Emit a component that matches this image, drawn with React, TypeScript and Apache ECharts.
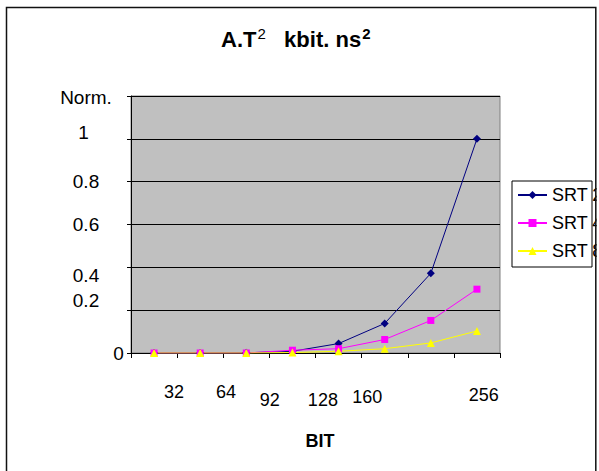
import React, { useEffect, useRef } from "react";
import * as echarts from "echarts";

// ---- data ----
const categories = ["1", "2", "3", "4", "5", "6", "7", "8"];
const seriesNames = ["SRT 2", "SRT 4", "SRT 8"];
const srt2 = [0, 0, 0.001, 0.008, 0.044, 0.138, 0.372, 1.0];
const srt4 = [0, 0, 0, 0.013, 0.02, 0.063, 0.152, 0.298];
const srt8 = [0, 0, 0, 0.002, 0.008, 0.02, 0.047, 0.103];
const yTickLabels = ["0", "0.2", "0.4", "0.6", "0.8", "1", "Norm."];
const xTickLabels = ["32", "64", "92", "128", "160", "256"];
const xAxisTitle = "BIT";

// ---- layout (not data) ----
const FONT = '"Liberation Sans", Arial, sans-serif';
const xLabelSlots = [0.93, 2.06, 3.01, 4.16, 5.12, 7.65];
const xLabelStyles = ["a", "a", "b", "b", "c", "d"];
const yLabelStyles = ["zero", "two", "four", "r", "r", "one", "n"];

export default function App() {
  const ref = useRef<HTMLDivElement>(null);
  useEffect(() => {
    if (!ref.current) return;
    const chart = echarts.init(ref.current, undefined, { renderer: "svg" });
    const base = { fontSize: 18, fontFamily: FONT, color: "#000" };
    const yBase = { fontSize: 19, fontFamily: FONT, color: "#000" };
    const option: any = {
      animation: false,
      backgroundColor: "#fff",
      title: {
        text: "{b|A.T}{s|2}{b|   kbit. ns}{sb|2}",
        left: 221,
        top: 26,
        padding: 0,
        textStyle: {
          rich: {
            b: { fontSize: 22, fontWeight: "bold", fontFamily: FONT, color: "#000" },
            s: { fontSize: 15, fontWeight: "normal", fontFamily: FONT, color: "#000", padding: [0, 0, 11, 1] },
            sb: { fontSize: 15, fontWeight: "bold", fontFamily: FONT, color: "#000", padding: [0, 0, 11, 1] },
          },
        },
      },
      grid: {
        left: 131,
        top: 96,
        width: 369,
        height: 257,
        show: true,
        backgroundColor: "#C0C0C0",
        borderColor: "#808080",
        borderWidth: 1,
        containLabel: false,
        outerBoundsMode: "none",
      },
      legend: {
        data: seriesNames,
        orient: "vertical",
        left: 512,
        top: 181,
        padding: [5, 5, 6, 5],
        itemGap: 10,
        itemWidth: 29,
        itemHeight: 10,
        textStyle: { ...base },
        backgroundColor: "#fff",
      },
      xAxis: [
        {
          type: "category",
          data: categories,
          boundaryGap: true,
          axisLine: { lineStyle: { color: "#000", width: 1 } },
          axisTick: { show: true, length: 5, lineStyle: { color: "#000" } },
          axisLabel: { show: false },
          splitLine: { show: false },
          name: xAxisTitle,
          nameLocation: "middle",
          nameGap: 79,
          nameTextStyle: { fontSize: 18, fontWeight: "bold", fontFamily: FONT, color: "#000", padding: [0, 0, 0, 9] },
        },
        {
          type: "value",
          position: "bottom",
          min: 0,
          max: categories.length,
          axisLine: { show: false },
          axisTick: { show: false },
          splitLine: { show: false },
          axisLabel: {
            show: true,
            margin: 30,
            customValues: xLabelSlots,
            formatter: (v: number) => {
              const i = xLabelSlots.findIndex((s) => Math.abs(s - v) < 1e-6);
              return i < 0 ? "" : `{${xLabelStyles[i]}|${xTickLabels[i]}}`;
            },
            rich: {
              a: { ...base },
              b: { ...base, padding: [8, 0, 0, 0] },
              c: { ...base, padding: [5, 0, 0, 0] },
              d: { ...base, padding: [3, 0, 0, 0] },
            },
          },
        },
      ],
      yAxis: {
        type: "value",
        min: 0,
        max: 1.2,
        interval: 0.2,
        axisLine: { show: true, lineStyle: { color: "#000", width: 1 } },
        axisTick: { show: true, length: 4, lineStyle: { color: "#000" } },
        splitLine: { show: true, lineStyle: { color: "#000", width: 1 } },
        axisLabel: {
          align: "center",
          margin: 45,
          formatter: (_v: number, i: number) => `{${yLabelStyles[i]}|${yTickLabels[i]}}`,
          rich: {
            r: { ...yBase },
            n: { ...yBase, padding: [3, 0, 0, 0] },
            one: { ...yBase, padding: [0, 5, 13, 0] },
            four: { ...yBase, padding: [17, 0, 0, 0] },
            two: { ...yBase, padding: [0, 0, 20, 0] },
            zero: { ...yBase, padding: [0, 0, 0, 65] },
          },
        },
      },
      series: [
        {
          name: seriesNames[0],
          type: "line",
          data: srt2,
          xAxisIndex: 0,
          symbol: "diamond",
          symbolSize: 8,
          lineStyle: { color: "#000080", width: 1 },
          itemStyle: { color: "#000080" },
        },
        {
          name: seriesNames[1],
          type: "line",
          data: srt4,
          xAxisIndex: 0,
          symbol: "rect",
          symbolSize: 7,
          lineStyle: { color: "#FF00FF", width: 1 },
          itemStyle: { color: "#FF00FF" },
        },
        {
          name: seriesNames[2],
          type: "line",
          data: srt8,
          xAxisIndex: 0,
          symbol: "triangle",
          symbolSize: 8,
          lineStyle: { color: "#FFFF00", width: 1 },
          itemStyle: { color: "#FFFF00" },
        },
      ],
      graphic: [
        {
          type: "rect",
          z: 50,
          shape: { x: 512, y: 181, width: 80, height: 86 },
          style: { fill: "none", stroke: "#000", lineWidth: 1 },
        },
        {
          type: "rect",
          z: 100,
          shape: { x: 596.6, y: 0, width: 10, height: 471 },
          style: { fill: "#fff" },
        },
        {
          type: "rect",
          z: 101,
          shape: { x: 6.5, y: 7.5, width: 589.3, height: 480 },
          style: { fill: "none", stroke: "#111", lineWidth: 1.5 },
        },
      ],
    };
    chart.setOption(option);
    return () => chart.dispose();
  }, []);
  return (
    <div
      ref={ref}
      style={{ position: "absolute", left: 0, top: 0, width: 599, height: 471 }}
    />
  );
}
